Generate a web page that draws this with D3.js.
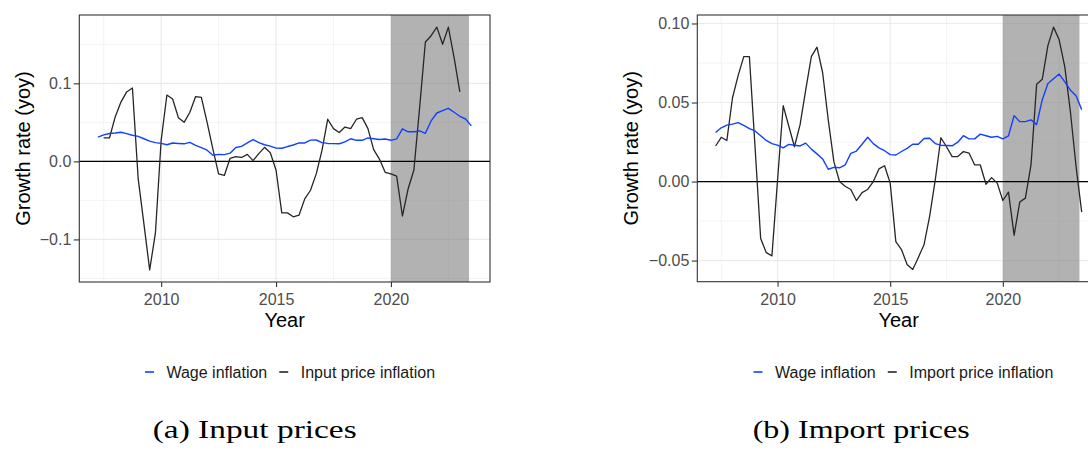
<!DOCTYPE html>
<html><head><meta charset="utf-8">
<script src="https://cdn.jsdelivr.net/npm/d3@7"></script>
<style>body{margin:0;background:#fff} svg{display:block}</style>
</head><body>
<svg id="c" width="1088" height="450"></svg>
<script>
// ---------- data ----------
const quarters = ["2007Q2","2007Q3","2007Q4",
"2008Q1","2008Q2","2008Q3","2008Q4","2009Q1","2009Q2","2009Q3","2009Q4",
"2010Q1","2010Q2","2010Q3","2010Q4","2011Q1","2011Q2","2011Q3","2011Q4",
"2012Q1","2012Q2","2012Q3","2012Q4","2013Q1","2013Q2","2013Q3","2013Q4",
"2014Q1","2014Q2","2014Q3","2014Q4","2015Q1","2015Q2","2015Q3","2015Q4",
"2016Q1","2016Q2","2016Q3","2016Q4","2017Q1","2017Q2","2017Q3","2017Q4",
"2018Q1","2018Q2","2018Q3","2018Q4","2019Q1","2019Q2","2019Q3","2019Q4",
"2020Q1","2020Q2","2020Q3","2020Q4","2021Q1","2021Q2","2021Q3","2021Q4",
"2022Q1","2022Q2","2022Q3","2022Q4","2023Q1","2023Q2","2023Q3"];

// wage inflation, 2007Q2 .. 2023Q3
const wageInflation = [0.031,0.034,0.0357,
0.0363,0.0373,0.0355,0.0335,0.032,0.029,0.026,0.024,
0.023,0.0213,0.0235,0.023,0.0225,0.0243,0.0205,0.0175,
0.0143,0.0078,0.009,0.0087,0.0105,0.0178,0.0193,0.0236,
0.028,0.024,0.0213,0.0195,0.017,0.0168,0.019,0.021,
0.0236,0.0236,0.0272,0.0274,0.024,0.023,0.0228,0.0226,
0.0249,0.029,0.027,0.027,0.030,0.029,0.028,0.0286,
0.027,0.0289,0.0417,0.0379,0.0379,0.039,0.036,0.0518,
0.062,0.065,0.068,0.063,0.0578,0.0543,0.0455];

// input price inflation, 2007Q3 .. 2023Q1
const inputQuarters = quarters.slice(1, 64);
const inputPriceInflation = [0.030,0.030,
0.057,0.076,0.089,0.094,-0.022,-0.080,-0.139,-0.092,
0.027,0.085,0.080,0.056,0.050,0.063,0.083,0.082,
0.050,0.016,-0.016,-0.018,0.004,0.006,0.005,0.009,
0.001,0.010,0.018,0.011,-0.011,-0.066,-0.066,-0.071,
-0.069,-0.048,-0.037,-0.016,0.014,0.054,0.042,0.037,
0.044,0.042,0.054,0.056,0.042,0.015,0.003,-0.014,
-0.016,-0.019,-0.070,-0.035,-0.011,0.069,0.153,0.161,
0.172,0.150,0.172,0.133,0.089];

// import price inflation, 2007Q2 .. 2023Q3
const importPriceInflation = [0.0225,0.028,0.026,
0.053,0.067,0.079,0.079,0.022,-0.036,-0.045,-0.047,
0.001,0.048,0.035,0.022,0.036,0.058,0.079,0.085,
0.069,0.039,0.0126,0.000,-0.003,-0.005,-0.012,-0.007,
-0.005,0.000,0.008,0.010,-0.001,-0.038,-0.043,-0.0525,
-0.0557,-0.048,-0.040,-0.022,0.001,0.0277,0.022,0.0158,
0.0158,0.019,0.018,0.0105,0.0105,-0.0017,0.0025,-0.001,
-0.012,-0.0067,-0.034,-0.013,-0.0105,0.0105,0.0616,0.0647,
0.086,0.0977,0.0897,0.0725,0.044,0.0095,-0.0193];

const shadeStart = 2020.0, shadeEnd = 2023.4;
const xTicks = [2010, 2015, 2020];
const xMinor = [2007.5, 2012.5, 2017.5, 2022.5];
const leftYTicks = [-0.1, 0, 0.1];
const leftYMinor = [-0.15, -0.05, 0.05, 0.15];
const rightYTicks = [-0.05, 0, 0.05, 0.10];
const rightYMinor = [-0.025, 0.025, 0.075];

// ---------- helpers ----------
const qToYear = q => +q.slice(0,4) + (+q.slice(5) - 1) / 4;
const svg = d3.select("#c");
const SANS = "'Liberation Sans', Arial, Helvetica, sans-serif";
const BLUE = "#1240ff", BLACK = "#262626";

function expand(ext){ const r = ext[1]-ext[0]; return [ext[0]-0.05*r, ext[1]+0.05*r]; }

function panel(o){
  const g = svg.append("g");
  const xDom = expand([qToYear(quarters[0]), qToYear(quarters[quarters.length-1])]);
  const x = d3.scaleLinear().domain(xDom).range([o.left, o.right]);
  const allVals = wageInflation.concat(o.series);
  const y = d3.scaleLinear().domain(expand(d3.extent(allVals))).range([o.bottom, o.top]);

  // background grid
  g.selectAll(".gmx").data(xMinor).join("line")
    .attr("x1", d=>x(d)).attr("x2", d=>x(d)).attr("y1", o.top).attr("y2", o.bottom)
    .attr("stroke", "#ebebeb").attr("stroke-width", 0.6);
  g.selectAll(".gmy").data(o.yMinor).join("line")
    .attr("y1", d=>y(d)).attr("y2", d=>y(d)).attr("x1", o.left).attr("x2", o.right)
    .attr("stroke", "#ebebeb").attr("stroke-width", 0.6);
  g.selectAll(".gMx").data(xTicks).join("line")
    .attr("x1", d=>x(d)).attr("x2", d=>x(d)).attr("y1", o.top).attr("y2", o.bottom)
    .attr("stroke", "#ebebeb").attr("stroke-width", 1.2);
  g.selectAll(".gMy").data(o.yTicks).join("line")
    .attr("y1", d=>y(d)).attr("y2", d=>y(d)).attr("x1", o.left).attr("x2", o.right)
    .attr("stroke", "#ebebeb").attr("stroke-width", 1.2);

  // shaded period
  g.append("rect").attr("x", x(shadeStart)).attr("width", x(shadeEnd)-x(shadeStart))
    .attr("y", o.top).attr("height", o.bottom-o.top)
    .attr("fill", "#7f7f7f").attr("fill-opacity", 0.6);

  // zero line
  g.append("line").attr("x1", o.left).attr("x2", o.right).attr("y1", y(0)).attr("y2", y(0))
    .attr("stroke", "#000").attr("stroke-width", 1.3);

  const line = d3.line().x(d=>x(d[0])).y(d=>y(d[1]));
  const wageData = quarters.map((q,i)=>[qToYear(q), wageInflation[i]]);
  const serData = o.seriesQuarters.map((q,i)=>[qToYear(q), o.series[i]]);
  g.append("path").datum(serData).attr("d", line).attr("fill","none")
    .attr("stroke", BLACK).attr("stroke-width", 1.3).attr("stroke-linejoin","round");
  g.append("path").datum(wageData).attr("d", line).attr("fill","none")
    .attr("stroke", BLUE).attr("stroke-width", 1.4).attr("stroke-linejoin","round");

  // border
  g.append("rect").attr("x", o.left).attr("y", o.top).attr("width", o.right-o.left)
    .attr("height", o.bottom-o.top).attr("fill","none").attr("stroke","#333").attr("stroke-width",1.1);

  // axes
  const ax = g.append("g").attr("transform", `translate(0,${o.bottom})`)
    .call(d3.axisBottom(x).tickValues(xTicks).tickFormat(d3.format("d")).tickSize(5).tickPadding(6.5));
  const ay = g.append("g").attr("transform", `translate(${o.left},0)`)
    .call(d3.axisLeft(y).tickValues(o.yTicks).tickFormat(d3.format(o.fmt)).tickSize(5.5).tickPadding(2.5));
  [ax, ay].forEach(a=>{
    a.select(".domain").remove();
    a.selectAll(".tick line").attr("stroke","#333").attr("stroke-width",1.1);
    a.selectAll(".tick text").attr("fill","#4d4d4d").style("font-family",SANS).style("font-size","16px");
  });

  // titles
  g.append("text").attr("x", (o.left+o.right)/2).attr("y", 326.5).attr("text-anchor","middle")
    .style("font-family",SANS).style("font-size","20px").attr("fill","#000").text("Year");
  g.append("text").attr("transform", `translate(${o.ytitleX},${(o.top+o.bottom)/2}) rotate(-90)`)
    .attr("text-anchor","middle").style("font-family",SANS).style("font-size","20px")
    .attr("fill","#000").text("Growth rate (yoy)");

  // legend
  const lg = g.append("g").attr("transform", `translate(0,372)`);
  const items = [{label:"Wage inflation", color:BLUE},{label:o.seriesName, color:BLACK}];
  let cx = 0;
  items.forEach((it,i)=>{
    lg.append("line").attr("x1", cx).attr("x2", cx+9).attr("y1",0).attr("y2",0)
      .attr("stroke", it.color).attr("stroke-width", 1.6);
    cx += 9 + 12.5;
    const t = lg.append("text").attr("x", cx).attr("y", 5.7)
      .style("font-family",SANS).style("font-size","16px").attr("fill","#1a1a1a").text(it.label);
    cx += t.node().getComputedTextLength();
    if (i < items.length-1) cx += 12;
  });
  lg.attr("transform", `translate(${o.legendCenter - cx/2},372)`);

  // caption
  svg.append("text").attr("x", o.capX).attr("y", 437.5)
    .attr("textLength", o.capW).attr("lengthAdjust","spacingAndGlyphs")
    .style("font-family","'Liberation Serif','Times New Roman',serif").style("font-size","25px")
    .attr("fill","#000").text(o.caption);
}

panel({left:79.3, right:490, top:15, bottom:282, series:inputPriceInflation,
  seriesQuarters:inputQuarters, seriesName:"Input price inflation",
  yTicks:leftYTicks, yMinor:leftYMinor, fmt:".1f", ytitleX:29.5,
  legendCenter:290, caption:"(a) Input prices", capX:152.7, capW:204});

panel({left:697.3, right:1100, top:15, bottom:281.7, series:importPriceInflation,
  seriesQuarters:quarters, seriesName:"Import price inflation",
  yTicks:rightYTicks, yMinor:rightYMinor, fmt:".2f", ytitleX:637.5,
  legendCenter:903.4, caption:"(b) Import prices", capX:752.7, capW:217});
</script>
</body></html>
